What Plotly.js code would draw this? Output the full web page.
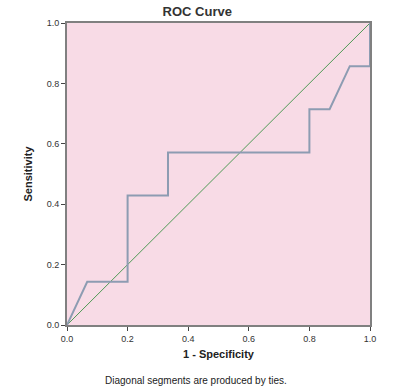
<!DOCTYPE html>
<html>
<head>
<meta charset="utf-8">
<script src="https://cdn.plot.ly/plotly-3.0.1.min.js"></script>
<style>html,body{margin:0;padding:0;background:#fff;}#chart{width:417px;height:390px;}</style>
</head>
<body>
<div id="chart"></div>
<script>
var fpr = [0, 0.0667, 0.2, 0.2, 0.3333, 0.3333, 0.8, 0.8, 0.8667, 0.9333, 1.0, 1.0];
var tpr = [0, 0.1429, 0.1429, 0.4286, 0.4286, 0.5714, 0.5714, 0.7143, 0.7143, 0.8571, 0.8571, 1.0];
var refX = [0, 1];
var refY = [0, 1];
var tickVals = [0, 0.2, 0.4, 0.6, 0.8, 1.0];
var tickText = ["0.0", "0.2", "0.4", "0.6", "0.8", "1.0"];

var traces = [
  {x: refX, y: refY, mode: 'lines', line: {color: '#4f9a55', width: 1}, hoverinfo: 'skip'},
  {x: fpr, y: tpr, mode: 'lines', line: {color: '#8d9cb2', width: 2}, hoverinfo: 'skip'}
];

var axisCommon = {
  range: [0, 1], tickvals: tickVals, ticktext: tickText,
  ticks: 'outside', ticklen: 4, tickwidth: 1, tickcolor: '#444',
  showline: true, linecolor: '#808080', linewidth: 2, mirror: true,
  showgrid: false, zeroline: false,
  tickfont: {family: 'Liberation Sans, Arial, sans-serif', size: 9, color: '#333'}
};

var layout = {
  width: 417, height: 390,
  margin: {l: 67, r: 47, t: 23, b: 65},
  paper_bgcolor: '#ffffff',
  plot_bgcolor: '#f8dbe6',
  showlegend: false,
  title: {text: '<b>ROC Curve</b>', x: 0.43, xref: 'paper', xanchor: 'center', y: 0.97, yref: 'container', yanchor: 'middle',
    font: {family: 'Liberation Sans, Arial, sans-serif', size: 13, color: '#333'}},
  xaxis: Object.assign({}, axisCommon, {
    title: {text: '<b>1 - Specificity</b>', standoff: 8, font: {family: 'Liberation Sans, Arial, sans-serif', size: 11, color: '#222'}}
  }),
  yaxis: Object.assign({}, axisCommon, {
    title: {text: '<b>Sensitivity</b>', standoff: 12, font: {family: 'Liberation Sans, Arial, sans-serif', size: 11, color: '#222'}}
  }),
  annotations: [{
    text: 'Diagonal segments are produced by ties.', xref: 'paper', yref: 'paper',
    x: 0.426, y: -0.185, xanchor: 'center', yanchor: 'middle', showarrow: false,
    font: {family: 'Liberation Sans, Arial, sans-serif', size: 10, color: '#222'}
  }]
};

Plotly.newPlot('chart', traces, layout, {displayModeBar: false, staticPlot: true});
</script>
</body>
</html>
